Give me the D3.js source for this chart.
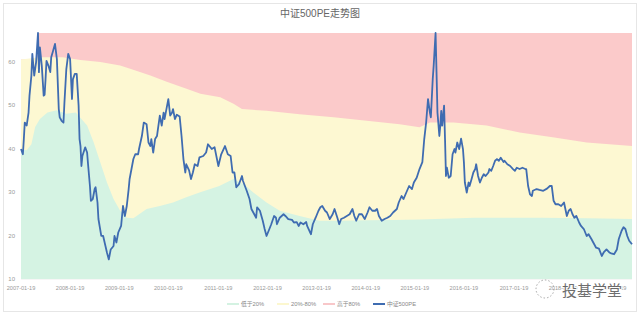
<!DOCTYPE html>
<html>
<head>
<meta charset="utf-8">
<script src="https://cdn.jsdelivr.net/npm/d3@7"></script>
<style>
  body { margin: 0; background: #fff; }
  svg { display: block; font-family: "Liberation Sans", "Noto Sans CJK SC", sans-serif; }
</style>
</head>
<body>
<svg class="chart"></svg>
<script>
// Weekly PE of CSI 500, week index counted from 2007-01-19
var weekIdx = [
  0, 2, 3, 4, 6, 8, 9, 11, 12, 14,
  16, 18, 19, 20, 22, 24, 25, 26, 27, 29,
  31, 32, 34, 36, 38, 40, 41, 43, 45, 46,
  48, 50, 52, 54, 55, 57, 59, 61, 62, 63,
  64, 65, 68, 70, 71, 73, 74, 76, 78, 79,
  81, 82, 85, 87, 89, 91, 93, 95, 98, 99,
  101, 103, 106, 108, 110, 112, 114, 115, 117, 119,
  121, 124, 125, 128, 130, 133, 135, 137, 138, 140,
  142, 144, 145, 147, 149, 151, 152, 154, 156, 158,
  160, 161, 163, 165, 168, 170, 172, 174, 175, 178,
  180, 182, 184, 187, 189, 193, 196, 198, 202, 205,
  209, 212, 216, 219, 222, 224, 226, 228, 231, 234,
  235, 239, 242, 244, 247, 249, 250, 253, 256, 258,
  260, 263, 265, 268, 270, 271, 274, 278, 280, 283,
  287, 289, 292, 294, 296, 299, 302, 303, 307, 309,
  312, 315, 317, 319, 322, 324, 327, 330, 332, 335,
  337, 339, 342, 345, 348, 351, 353, 355, 358, 361,
  364, 367, 369, 372, 375, 377, 379, 382, 385, 388,
  391, 394, 398, 400, 403, 405, 408, 411, 414, 416,
  419, 422, 425, 427, 429, 431, 433, 434, 436, 437,
  439, 440, 441, 443, 444, 445, 446, 448, 449, 450,
  451, 453, 455, 457, 459, 460, 462, 464, 466, 468,
  469, 470, 472, 474, 475, 477, 479, 481, 482, 484,
  486, 488, 490, 492, 495, 496, 498, 500, 502, 504,
  506, 508, 511, 512, 515, 518, 521, 523, 525, 528,
  531, 534, 535, 537, 539, 541, 542, 546, 549, 553,
  557, 560, 562, 564, 566, 569, 572, 575, 578, 580,
  582, 584, 586, 588, 591, 593, 596, 599, 601, 604,
  606, 609, 612, 615, 617, 620, 623, 625, 628, 631,
  633, 636, 638, 640, 642, 644, 647
];
var pe = [
  39.9, 38.7, 42.2, 46.0, 45.3, 48.3, 52.2, 56.8, 61.8, 56.8,
  59.9, 66.6, 57.6, 63.3, 59.1, 52.2, 52.4, 56.0, 60.2, 59.1,
  57.6, 61.0, 62.5, 64.1, 60.6, 49.1, 47.2, 46.4, 46.0, 50.6,
  58.3, 61.8, 60.6, 51.4, 56.0, 57.2, 57.2, 49.9, 42.2, 40.6,
  36.0, 38.3, 40.3, 39.1, 36.4, 31.4, 28.0, 28.4, 30.7, 31.1,
  27.6, 23.8, 19.9, 19.9, 18.0, 16.1, 14.5, 16.8, 17.6, 19.9,
  18.4, 20.7, 22.2, 26.8, 24.5, 26.8, 30.7, 33.0, 35.3, 37.6,
  38.7, 38.7, 39.9, 42.9, 46.0, 45.6, 41.4, 40.6, 42.2, 39.1,
  42.2, 42.9, 44.5, 47.6, 45.3, 48.3, 46.8, 49.1, 51.4, 47.6,
  48.3, 49.1, 46.8, 47.8, 47.4, 42.9, 37.6, 34.5, 36.4, 35.0,
  33.0, 34.5, 36.4, 36.0, 38.0, 38.3, 39.1, 41.0, 39.9, 40.3,
  36.0, 38.7, 40.6, 38.7, 38.3, 34.5, 34.5, 31.1, 31.9, 33.7,
  32.6, 30.3, 28.4, 26.1, 24.9, 24.1, 26.5, 25.7, 23.4, 21.5,
  19.9, 21.5, 22.6, 24.5, 24.1, 22.6, 24.1, 24.9, 24.5, 23.8,
  23.6, 23.0, 23.1, 22.2, 23.0, 22.6, 23.1, 22.2, 20.3, 22.6,
  24.1, 25.7, 26.5, 26.8, 25.7, 25.3, 23.8, 24.9, 26.1, 24.1,
  22.6, 23.8, 24.1, 24.5, 24.9, 26.1, 24.5, 23.4, 24.9, 24.9,
  23.8, 25.3, 26.5, 25.7, 25.7, 26.1, 24.5, 23.4, 23.8, 24.1,
  24.5, 25.3, 26.1, 27.6, 29.1, 28.4, 29.9, 31.4, 30.7, 32.2,
  33.3, 35.3, 36.9, 42.2, 46.0, 51.4, 48.3, 47.2, 56.0, 59.1,
  66.6, 57.6, 48.3, 42.9, 45.3, 48.7, 45.3, 49.9, 42.2, 33.7,
  35.6, 33.3, 33.7, 38.7, 39.9, 39.1, 41.4, 39.9, 42.3, 39.9,
  36.9, 32.2, 29.9, 32.2, 31.4, 32.9, 34.5, 35.3, 36.4, 33.7,
  32.2, 33.3, 34.1, 33.7, 34.5, 35.3, 34.9, 36.0, 37.2, 37.6,
  37.2, 37.9, 36.9, 37.2, 36.4, 36.0, 35.3, 34.9, 35.6, 35.3,
  35.6, 35.3, 35.3, 31.4, 29.5, 29.1, 30.3, 30.7, 30.5, 30.3,
  30.8, 31.4, 31.4, 28.0, 27.2, 27.2, 26.8, 27.6, 24.5, 25.7,
  26.1, 24.9, 24.1, 24.5, 23.0, 22.2, 21.5, 19.9, 20.3, 19.2,
  18.4, 17.2, 17.0, 15.3, 16.1, 16.8, 16.1, 15.9, 15.7, 16.8,
  19.2, 21.1, 21.9, 21.5, 19.9, 18.8, 18.0
];

// 20% percentile line
var p20Weeks = [0, 6, 11, 15, 20, 28, 38, 48, 58, 70, 77, 84, 91, 98, 105, 112, 119, 133, 147, 161,
  175, 189, 210, 225, 236, 246, 260, 274, 295, 316, 338, 366, 394, 422, 480, 550, 600, 647];
var p20 = [39.8, 39.6, 41.0, 45.0, 46.8, 48.3, 48.8, 48.0, 48.3, 45.3, 41.4, 36.8, 32.2, 28.4, 25.7, 24.1, 24.0, 26.1, 26.8, 27.6,
  28.8, 29.9, 31.4, 33.0, 31.8, 29.9, 27.6, 25.7, 24.5, 23.4, 23.4, 23.5, 23.6, 23.7, 24.1, 24.1, 24.0, 23.8];

// 80% percentile line
var p80Weeks = [0, 20, 44, 63, 84, 105, 118, 137, 155, 176, 190, 211, 225, 234, 260, 295, 331, 366, 401, 422,
  433, 458, 493, 528, 563, 599, 647];
var p80 = [60.5, 61.0, 61.0, 60.4, 59.9, 59.1, 58.2, 56.8, 55.3, 53.7, 52.6, 51.8, 50.3, 49.1, 48.7, 47.9, 47.2, 46.4, 45.6, 44.9,
  46.0, 46.0, 45.3, 43.7, 42.6, 41.4, 40.6];

// historical max
var maxWeeks = [0, 17, 18, 647];
var peMax = [60.5, 60.5, 66.6, 66.6];

var tickWeeks = [0, 52, 104, 156, 209, 261, 313, 365, 417, 469, 522, 574, 626];
var tickLabels = ["2007-01-19", "2008-01-19", "2009-01-19", "2010-01-19", "2011-01-19", "2012-01-19",
  "2013-01-19", "2014-01-19", "2015-01-19", "2016-01-19", "2017-01-19", "2018-01-19", "2019-01-19"];
var yTicks = [10, 20, 30, 40, 50, 60];

var legendNames = ["低于20%", "20%-80%", "高于80%", "中证500PE"];
var legendColors = ["#d4f2e2", "#fcf7cf", "#f8c7c9", "#3f6cb1"];

var W = 640, H = 318;
var margin = {top: 33, right: 8, bottom: 39, left: 21};

var x = d3.scaleLinear().domain([0, 647]).range([margin.left, W - margin.right]);
var y = d3.scaleLinear().domain([10, 66.6]).range([H - margin.bottom, margin.top]);

var svg = d3.select(".chart").attr("width", W).attr("height", H);

// outer frame
svg.append("rect")
    .attr("x", 3.5).attr("y", 3.5)
    .attr("width", W - 7).attr("height", H - 10)
    .attr("fill", "#fff")
    .attr("stroke", "#e6e6e6");

// title
svg.append("text")
    .attr("x", W / 2).attr("y", 17)
    .attr("text-anchor", "middle")
    .attr("font-size", 10)
    .attr("fill", "#666")
    .text("中证500PE走势图");

// grid lines
svg.append("g").selectAll("line")
    .data(yTicks)
    .enter().append("line")
    .attr("x1", margin.left).attr("x2", W - margin.right)
    .attr("y1", function(d) { return y(d); })
    .attr("y2", function(d) { return y(d); })
    .attr("stroke", "#eeeeee");

// bands, drawn back to front
function band(weeks, vals, color) {
  var pts = weeks.map(function(w, i) { return [w, vals[i]]; });
  svg.append("path")
      .datum(pts)
      .attr("fill", color)
      .attr("d", d3.area()
          .x(function(d) { return x(d[0]); })
          .y0(y(10))
          .y1(function(d) { return y(d[1]); }));
}
band(maxWeeks, peMax, "#fbcaca");
band(p80Weeks, p80, "#fdf8d2");
band(p20Weeks, p20, "#d5f3e3");

// PE line
svg.append("path")
    .datum(weekIdx.map(function(w, i) { return [w, pe[i]]; }))
    .attr("fill", "none")
    .attr("stroke", "#3f6cb1")
    .attr("stroke-width", 1.8)
    .attr("stroke-linejoin", "round")
    .attr("d", d3.line()
        .x(function(d) { return x(d[0]); })
        .y(function(d) { return y(d[1]); }));

// y axis labels
svg.append("g").selectAll("text")
    .data(yTicks)
    .enter().append("text")
    .attr("x", 15)
    .attr("y", function(d) { return y(d) + 2; })
    .attr("text-anchor", "end")
    .attr("font-size", 6)
    .attr("fill", "#999")
    .text(function(d) { return d; });

// x axis labels
svg.append("g").selectAll("text")
    .data(tickWeeks)
    .enter().append("text")
    .attr("x", function(d) { return x(d); })
    .attr("y", 290)
    .attr("text-anchor", "middle")
    .attr("font-size", 5.6)
    .attr("fill", "#999")
    .text(function(d, i) { return tickLabels[i]; });

// legend
var legendX = [227, 277, 323, 373];
var legend = svg.append("g").selectAll("g")
    .data(legendNames)
    .enter().append("g")
    .attr("transform", function(d, i) { return "translate(" + legendX[i] + ",304)"; });
legend.append("line")
    .attr("x1", 0).attr("x2", 12)
    .attr("stroke", function(d, i) { return legendColors[i]; })
    .attr("stroke-width", 2);
legend.append("text")
    .attr("x", 14).attr("y", 2)
    .attr("font-size", 5.8)
    .attr("fill", "#888")
    .text(function(d) { return d; });

// watermark
var wm = svg.append("g").attr("opacity", 0.85);
wm.append("circle")
    .attr("cx", 545).attr("cy", 289).attr("r", 9)
    .attr("fill", "none")
    .attr("stroke", "#999")
    .attr("stroke-dasharray", "1.5,2");
wm.append("text")
    .attr("x", 562).attr("y", 296)
    .attr("font-family", "Noto Sans CJK SC")
    .attr("font-size", 15)
    .attr("fill", "#555")
    .attr("stroke", "#fff")
    .attr("stroke-width", 2)
    .attr("paint-order", "stroke")
    .text("投基学堂");
</script>
</body>
</html>
